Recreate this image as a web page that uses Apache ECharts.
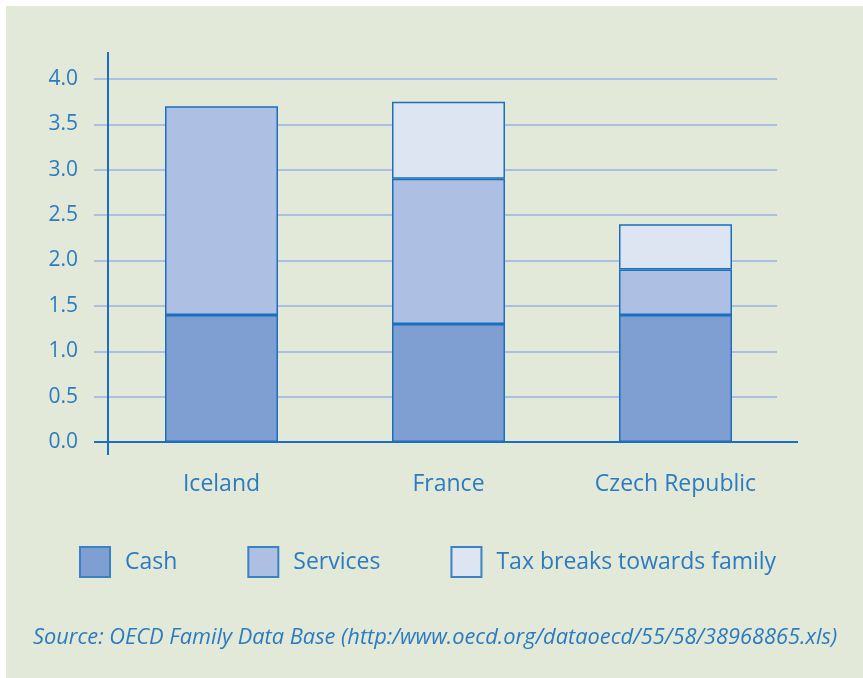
<!DOCTYPE html>
<html>
<head>
<meta charset="utf-8">
<script src="https://cdn.jsdelivr.net/npm/echarts@6/dist/echarts.min.js"></script>
<style>
  html, body { margin: 0; padding: 0; background: #ffffff; }
  #chart { width: 863px; height: 678px; }
</style>
</head>
<body>
<div id="chart"></div>
<script>
const countries = ["Iceland", "France", "Czech Republic"];
const cash = [1.4, 1.3, 1.4];
const services = [2.3, 1.6, 0.5];
const taxBreaks = [0, 0.85, 0.5];
const seriesNames = ["Cash", "Services", "Tax breaks towards family"];
const yMin = 0, yMax = 4, yStep = 0.5;

const blue = "#1a6fbf";
const textBlue = "#2b7bc0";
const font = "'Open Sans', 'Noto Sans', sans-serif";
const colors = ["#7f9fd3", "#adc0e3", "#dde5f3"];

const chart = echarts.init(document.getElementById("chart"));

function barSeries(name, data, color) {
  return {
    name: name,
    type: "bar",
    stack: "total",
    xAxisIndex: 0,
    yAxisIndex: 0,
    barWidth: 113,
    // zero segments are left out so no empty border is drawn
    data: data.map(v => (v === 0 ? "-" : v)),
    itemStyle: { color: color, borderColor: blue, borderWidth: 1.5 },
    emphasis: { disabled: true },
    animation: false
  };
}

chart.setOption({
  backgroundColor: "#ffffff",
  animation: false,
  textStyle: { fontFamily: font },
  graphic: [
    { type: "rect", z: -10, shape: { x: 6, y: 6, width: 857, height: 672 }, style: { fill: "#e3e9d8" } },
    // axis lines extended past the plot area like the original
    { type: "line", z: 10, shape: { x1: 108, y1: 52, x2: 108, y2: 455 }, style: { stroke: blue, lineWidth: 2 } },
    { type: "line", z: 10, shape: { x1: 94, y1: 442, x2: 798, y2: 442 }, style: { stroke: blue, lineWidth: 2 } }
  ],
  title: {
    text: "Source: OECD Family Data Base (http:/www.oecd.org/dataoecd/55/58/38968865.xls)",
    left: 33,
    top: 627,
    padding: 0,
    textStyle: { fontFamily: font, fontSize: 21.8, fontStyle: "italic", fontWeight: "normal", color: textBlue }
  },
  legend: {
    left: 79,
    top: 546,
    padding: 0,
    itemWidth: 30,
    itemHeight: 30,
    itemGap: 70,
    icon: "rect",
    data: seriesNames,
    selectedMode: false,
    textStyle: { fontFamily: font, fontSize: 23, color: textBlue, padding: [0, 0, 0, 10] },
    itemStyle: { borderColor: "#3a82c4", borderWidth: 2 }
  },
  grid: [
    { left: 108, right: 74, top: 79, bottom: 236 },
    { left: 94, right: 86, top: 79, bottom: 236 }
  ],
  xAxis: [
    {
      type: "category",
      gridIndex: 0,
      data: countries,
      axisLine: { show: false },
      axisTick: { show: false },
      axisLabel: { fontFamily: font, fontSize: 23, color: textBlue, margin: 31 }
    },
    { type: "value", gridIndex: 1, show: false, min: 0, max: 1 }
  ],
  yAxis: [
    {
      type: "value",
      gridIndex: 0,
      min: yMin,
      max: yMax,
      interval: yStep,
      axisLine: { show: false },
      axisTick: { show: false },
      splitLine: { show: false },
      axisLabel: {
        fontFamily: font, fontSize: 21, color: textBlue, margin: 30,
        formatter: v => v.toFixed(1)
      }
    },
    {
      type: "value",
      gridIndex: 1,
      min: yMin,
      max: yMax,
      interval: yStep,
      axisLine: { show: false },
      axisTick: { show: false },
      axisLabel: { show: false },
      splitLine: { lineStyle: { color: "#adbfe0", width: 2 } }
    }
  ],
  series: [
    barSeries(seriesNames[0], cash, colors[0]),
    barSeries(seriesNames[1], services, colors[1]),
    barSeries(seriesNames[2], taxBreaks, colors[2])
  ]
});
</script>
</body>
</html>
